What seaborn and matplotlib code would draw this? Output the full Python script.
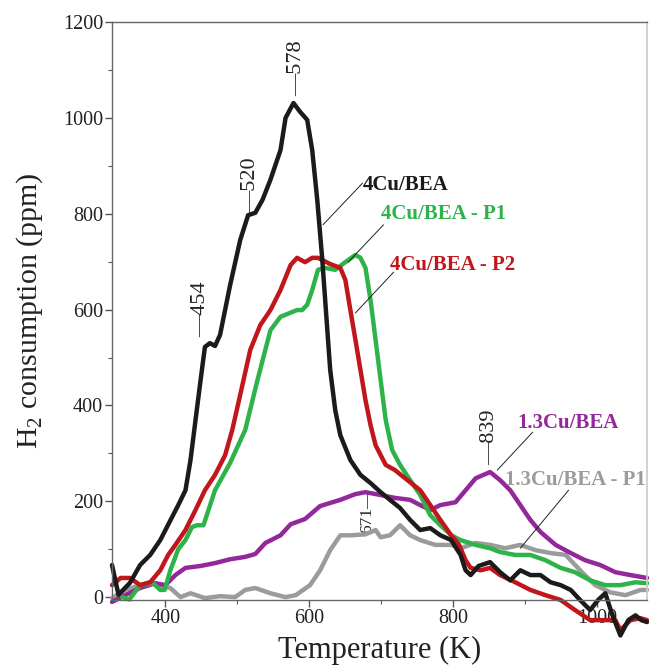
import numpy as np
import pandas as pd
import matplotlib
matplotlib.use("Agg")
import matplotlib.pyplot as plt
import seaborn as sns

# ---- data ----
t_4cu = [326, 335, 351, 365, 379, 393, 407, 418, 428, 435, 442, 449, 455, 462, 469, 476, 483, 490,
         504, 515, 525, 535, 546, 560, 567, 578, 587, 597, 604, 611, 618, 624, 629, 636, 643, 657,
         671, 685, 699, 712, 726, 740, 754, 768, 782, 797, 810, 817, 824, 835, 851, 865, 879, 893,
         907, 921, 935, 949, 963, 976, 990, 1001, 1011, 1021, 1032, 1043, 1053, 1061, 1069]
v_4cu = [67, 5, 30, 67, 88, 119, 160, 192, 223, 286, 370, 453, 522, 530, 524, 547, 599, 651,
         745, 797, 802, 829, 871, 933, 1000, 1031, 1013, 996, 933, 829, 704, 578, 474, 390, 338, 286,
         255, 238, 219, 203, 186, 161, 140, 144, 129, 119, 88, 56, 46, 65, 73, 52, 35, 56,
         46, 46, 31, 25, 15, -6, -27, -6, 8, -38, -80, -48, -38, -48, -52]

t_p2 = [326, 338, 351, 365, 379, 393, 404, 414, 428, 442, 455, 469, 483, 493, 504, 518, 532, 546,
        560, 574, 583, 594, 604, 612, 629, 643, 650, 657, 664, 671, 678, 685, 692, 706, 719, 733,
        754, 768, 782, 797, 808, 817, 824, 838, 851, 865, 886, 907, 928, 949, 969, 990, 1011,
        1025, 1032, 1046, 1060, 1069]
v_p2 = [25, 40, 40, 25, 31, 56, 88, 109, 140, 182, 223, 255, 296, 349, 422, 516, 568, 599,
        641, 693, 708, 699, 708, 708, 695, 687, 662, 599, 537, 474, 411, 359, 317, 276, 265, 248,
        223, 192, 161, 129, 109, 77, 61, 56, 61, 46, 31, 15, 4, -6, -27, -48, -48,
        -48, -69, -48, -44, -48]

t_p1 = [340, 350, 365, 383, 393, 399, 407, 418, 428, 437, 444, 453, 469, 490, 511, 528, 546, 560,
        583, 590, 597, 604, 612, 622, 636, 650, 664, 671, 678, 685, 692, 699, 706, 715, 726, 740,
        754, 768, 782, 797, 810, 831, 851, 865, 886, 907, 928, 949, 969, 990, 1011, 1032, 1053, 1069]
v_p1 = [0, -5, 25, 29, 15, 15, 56, 100, 119, 146, 150, 150, 223, 280, 349, 453, 557, 585,
        599, 599, 610, 641, 683, 687, 683, 699, 714, 708, 687, 620, 537, 453, 370, 307, 276, 244,
        213, 171, 150, 129, 119, 109, 102, 94, 88, 88, 77, 61, 52, 35, 25, 25, 31, 29]

t_13cu = [326, 344, 365, 386, 400, 414, 428, 449, 469, 490, 511, 525, 539, 560, 574, 594, 615, 643,
          664, 678, 699, 719, 740, 754, 768, 782, 803, 817, 831, 851, 865, 879, 893, 907, 921, 942,
          963, 983, 1004, 1025, 1046, 1069]
v_13cu = [-10, 4, 19, 29, 25, 46, 61, 65, 71, 79, 84, 90, 113, 129, 152, 163, 190, 203,
          215, 219, 213, 207, 203, 192, 182, 192, 198, 223, 248, 261, 244, 223, 192, 161, 136, 109,
          92, 77, 67, 52, 46, 40]

t_13p1 = [326, 344, 365, 379, 393, 407, 421, 435, 455, 476, 497, 511, 525, 546, 567, 581, 601, 615,
          629, 643, 657, 678, 692, 699, 712, 726, 740, 754, 775, 797, 810, 831, 851, 872, 893, 914,
          935, 956, 976, 997, 1018, 1039, 1060, 1069]
v_13p1 = [-2, 15, 25, 31, 25, 19, 0, 8, -2, 2, 0, 15, 19, 8, 0, 4, 25, 56,
          98, 129, 129, 131, 140, 125, 129, 150, 129, 119, 109, 109, 102, 113, 109, 102, 109, 98,
          92, 88, 56, 25, 10, 4, 15, 15]

series_names = ["1.3Cu/BEA - P1", "1.3Cu/BEA", "4Cu/BEA - P1", "4Cu/BEA - P2", "4Cu/BEA"]
series_t = [t_13p1, t_13cu, t_p1, t_p2, t_4cu]
series_v = [v_13p1, v_13cu, v_p1, v_p2, v_4cu]
series_colors = ["#9b9b9b", "#93289a", "#2db34a", "#c1161c", "#1c1a1a"]

peak_labels = ["454", "520", "578", "839"]
peak_t = [449, 518, 582, 851]
peak_v = [543, 802, 1046, 275]
small_label = "671"
small_t, small_v = 680, 134

# curve labels: text anchor (T, v) and leader line end points
curve_label_t = [674, 699, 712, 889, 872]
curve_label_v = [850, 789, 683, 353, 234]
leader_start = [(619, 777), (654, 699), (664, 593), (861, 265), (893, 102)]
leader_end = [(674, 864), (703, 777), (717, 678), (910, 344), (960, 223)]
curve_label_names = ["4Cu/BEA", "4Cu/BEA - P1", "4Cu/BEA - P2", "1.3Cu/BEA", "1.3Cu/BEA - P1"]
curve_label_colors = ["#1c1a1a", "#2db34a", "#c1161c", "#93289a", "#9b9b9b"]

# ---- style ----
sns.set_theme(style="ticks")
plt.rcParams["font.family"] = ["Liberation Serif", "DejaVu Serif"]
plt.rcParams["mathtext.fontset"] = "custom"
plt.rcParams["mathtext.rm"] = "Liberation Serif"

fig = plt.figure(figsize=(6.49, 6.68), dpi=100)
ax = fig.add_axes([0.1726, 0.1018, 0.8244, 0.8652])

for name, t, v, c in zip(series_names, series_t, series_v, series_colors):
    df = pd.DataFrame({"T": t, "H2": v})
    sns.lineplot(data=df, x="T", y="H2", ax=ax, color=c, lw=3.2, sort=False,
                 estimator=None, clip_on=False, solid_joinstyle="round")

ax.set_xlim(326, 1069)
ax.set_ylim(-6, 1200)
ax.set_xticks([400, 600, 800, 1000])
ax.set_xticks([500, 700, 900], minor=True)
ax.set_yticks([0, 200, 400, 600, 800, 1000, 1200])
ax.set_yticks([100, 300, 500, 700, 900, 1100], minor=True)
ax.tick_params(which="major", direction="out", length=5, width=1, colors="#555555",
               labelsize=14.5, labelcolor="#222222", pad=1.5)
ax.tick_params(which="minor", direction="out", length=3, width=0.8, colors="#555555")
for s in ["left", "bottom", "top"]:
    ax.spines[s].set_color("#666666")
    ax.spines[s].set_linewidth(1.0)
ax.spines["right"].set_color("#cccccc")

ax.set_xlabel("Temperature (K)", fontsize=22, color="#222222", labelpad=6)
ax.set_ylabel(r"H$_\mathregular{2}$ consumption (ppm)", fontsize=21.5, color="#222222", labelpad=13)

# peak labels (rotated, with a dash)
for lab, t, v in zip(peak_labels, peak_t, peak_v):
    ax.text(t, v, "\u2014" + lab, rotation=90, ha="center", va="bottom",
            fontsize=16, color="#222222")
ax.text(small_t, small_v, small_label + "\u2014", rotation=90, ha="center", va="bottom",
        fontsize=12.5, color="#222222", zorder=1)

# curve labels with leader lines
for txt, c, tt, vv, p0, p1 in zip(curve_label_names, curve_label_colors, curve_label_t,
                                  curve_label_v, leader_start, leader_end):
    ax.plot([p0[0], p1[0]], [p0[1], p1[1]], color="#222222", lw=0.7)
    ax.text(tt, vv, txt, color=c, fontsize=15, fontweight="bold",
            ha="left", va="baseline")

fig.savefig("out.png", dpi=100)
